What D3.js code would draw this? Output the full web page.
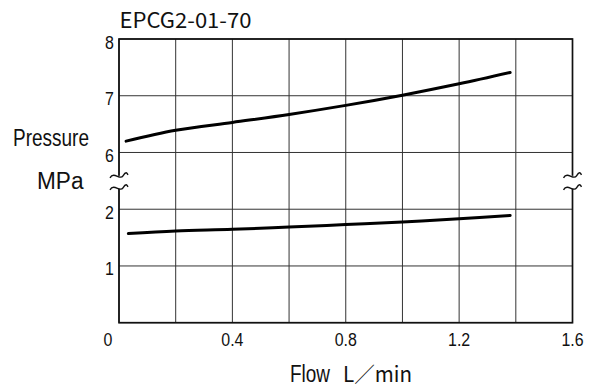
<!DOCTYPE html>
<html>
<head>
<meta charset="utf-8">
<script src="https://cdn.jsdelivr.net/npm/d3@7"></script>
<style>
  body { margin: 0; background: #fff; }
  svg { display: block; }
  .tick-label { font-family: 'Liberation Sans', Arial, sans-serif; font-size: 19px; fill: #111; }
  .label { font-family: 'Liberation Sans', Arial, sans-serif; font-size: 23px; fill: #111; }
  .jp { font-family: 'Noto Sans CJK JP', sans-serif; fill: #111; }
</style>
</head>
<body>
<div id="chart"></div>
<script>
const title = 'EPCG2-01-70';
const flowTicks = [0, 0.4, 0.8, 1.2, 1.6];
const flowGrid = [0, 0.2, 0.4, 0.6, 0.8, 1.0, 1.2, 1.4, 1.6];
const pressureTicks = [0, 1, 2, 6, 7, 8];

// upper curve
const highFlow = [0.025, 0.2, 0.4, 0.6, 0.8, 1.0, 1.2, 1.38];
const highPressure = [6.2, 6.39, 6.53, 6.67, 6.83, 7.01, 7.21, 7.41];
// lower curve
const lowFlow = [0.033, 0.2, 0.4, 0.6, 0.8, 1.0, 1.2, 1.38];
const lowPressure = [1.57, 1.615, 1.645, 1.685, 1.73, 1.775, 1.83, 1.89];

const W = 590, H = 387;
const margin = { top: 39, right: 17.5, bottom: 64.3, left: 119 };
const width = W - margin.left - margin.right;
const height = H - margin.top - margin.bottom;
const narrow = 0.84; // condensed look of the tick digits

const svg = d3.select('#chart').append('svg')
  .attr('width', W)
  .attr('height', H);

const chart = svg.append('g')
  .attr('transform', `translate(${margin.left}, ${margin.top})`);

const x = d3.scaleLinear().domain([0, 1.6]).range([0, width]);
// broken axis: 0-2 and 6-8, the gap 2-6 squeezed into one grid row
const row = height / 5;
const y = d3.scaleLinear()
  .domain([0, 2, 6, 8])
  .range([height, height - 2 * row, 2 * row, 0]);

// grid
chart.selectAll('.vgrid').data(flowGrid).enter()
  .append('line')
  .attr('class', 'vgrid')
  .attr('x1', d => x(d)).attr('x2', d => x(d))
  .attr('y1', 0).attr('y2', height)
  .attr('stroke', '#333').attr('stroke-width', 1);

chart.selectAll('.hgrid').data(pressureTicks).enter()
  .append('line')
  .attr('class', 'hgrid')
  .attr('x1', 0).attr('x2', width)
  .attr('y1', d => y(d)).attr('y2', d => y(d))
  .attr('stroke', '#333').attr('stroke-width', 1);

// frame
chart.append('rect')
  .attr('x', 0).attr('y', 0)
  .attr('width', width).attr('height', height)
  .attr('fill', 'none').attr('stroke', '#111').attr('stroke-width', 1.7);

// break marks on both sides
const breakY = y(4) + 1;
[0, width].forEach(bx => {
  chart.append('rect')
    .attr('x', bx - 3).attr('y', breakY - 6)
    .attr('width', 6).attr('height', 13)
    .attr('fill', '#fff');
  [-6, 6].forEach(dy => {
    const cy = breakY + dy;
    chart.append('path')
      .attr('d', `M${bx - 9},${cy + 2} C${bx - 5},${cy - 5} ${bx + 1},${cy + 5} ${bx + 4},${cy} S${bx + 8},${cy - 3} ${bx + 9},${cy - 1}`)
      .attr('fill', 'none').attr('stroke', '#111').attr('stroke-width', 1.4);
  });
});

// curves
const line = d3.line()
  .x(d => x(d[0]))
  .y(d => y(d[1]))
  .curve(d3.curveCatmullRom.alpha(0.5));

[[highFlow, highPressure], [lowFlow, lowPressure]].forEach(([fx, py]) => {
  chart.append('path')
    .datum(d3.zip(fx, py))
    .attr('d', line)
    .attr('fill', 'none')
    .attr('stroke', '#000')
    .attr('stroke-width', 3)
    .attr('stroke-linecap', 'round');
});

// x tick labels
chart.selectAll('.xval').data(flowTicks).enter()
  .append('g')
  .attr('transform', d => `translate(${x(d) - (d === 0 ? 11 : 0)}, ${height + 23.5}) scale(${narrow}, 1)`)
  .append('text')
  .attr('class', 'tick-label')
  .attr('text-anchor', 'middle')
  .text(d => d === 0 ? '0' : d3.format('.1f')(d));

// y tick labels (0 shared with the x axis)
chart.selectAll('.yval').data(pressureTicks.filter(d => d !== 0)).enter()
  .append('g')
  .attr('transform', d => `translate(-5, ${y(d) + 9.5}) scale(${narrow}, 1)`)
  .append('text')
  .attr('class', 'tick-label')
  .attr('text-anchor', 'end')
  .text(d => d);

// title
svg.append('text')
  .attr('class', 'jp')
  .attr('x', 119.5)
  .attr('y', 28)
  .attr('font-size', 21)
  .attr('textLength', 132)
  .attr('lengthAdjust', 'spacingAndGlyphs')
  .text(title);

// y axis title
svg.append('text')
  .attr('class', 'label')
  .attr('x', 13)
  .attr('y', 146)
  .attr('textLength', 76)
  .attr('lengthAdjust', 'spacingAndGlyphs')
  .text('Pressure');

svg.append('text')
  .attr('class', 'label')
  .attr('x', 37)
  .attr('y', 188.5)
  .attr('font-size', 21)
  .attr('textLength', 46.5)
  .attr('lengthAdjust', 'spacingAndGlyphs')
  .text('MPa');

// x axis title
svg.append('text')
  .attr('class', 'label')
  .attr('x', 290)
  .attr('y', 382)
  .attr('font-size', 21)
  .attr('textLength', 40)
  .attr('lengthAdjust', 'spacingAndGlyphs')
  .text('Flow');

svg.append('text')
  .attr('class', 'jp')
  .attr('x', 343)
  .attr('y', 382)
  .attr('font-size', 21)
  .attr('textLength', 69)
  .attr('lengthAdjust', 'spacingAndGlyphs')
  .text('L／min');
</script>
</body>
</html>
